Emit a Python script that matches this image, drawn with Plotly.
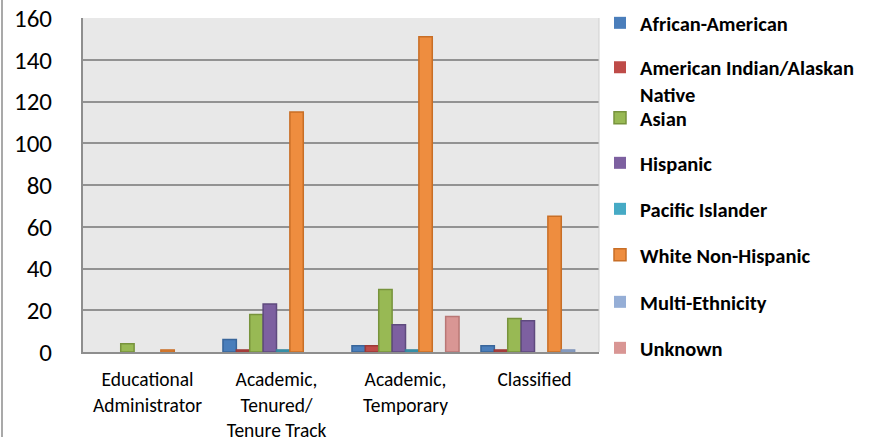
import plotly.graph_objects as go

# Headcount by employee category and ethnicity
categories = [
    "Educational<br>Administrator",
    "Academic,<br>Tenured/<br>Tenure Track",
    "Academic,<br>Temporary",
    "Classified",
]

series_names = [
    "African-American",
    "American Indian/Alaskan<br>Native",
    "Asian",
    "Hispanic",
    "Pacific Islander",
    "White Non-Hispanic",
    "Multi-Ethnicity",
    "Unknown",
]

african_american = [0, 6, 3, 3]
american_indian = [0, 1, 3, 1]
asian = [4, 18, 30, 16]
hispanic = [0, 23, 13, 15]
pacific_islander = [0, 1, 1, 0]
white_non_hispanic = [1, 115, 151, 65]
multi_ethnicity = [0, 0, 0, 1]
unknown = [0, 0, 17, 0]

series_values = [
    african_american, american_indian, asian, hispanic,
    pacific_islander, white_non_hispanic, multi_ethnicity, unknown,
]

fill_colors = ["#4A7EBB", "#BE4B48", "#98B954", "#7D60A0",
               "#46AAC5", "#EE8D3F", "#95AED6", "#D99694"]
edge_colors = ["#38659A", "#9C3936", "#77933C", "#5F4A7E",
               "#31859C", "#C86E26", "#7E93B8", "#B97775"]

FONT = "Carlito, Lato"

W, H = 874, 443
L, R, T, B = 83, 275, 18, 91
plot_w = W - L - R
plot_h = H - T - B

# legend rows (pixel centre of each entry)
legend_rows = [23, 81, 118, 163, 209, 255, 302, 348]
legend_left_px = 600

fig = go.Figure()
layout_legends = {}
for i, (name, vals) in enumerate(zip(series_names, series_values)):
    key = "legend" if i == 0 else f"legend{i + 1}"
    fig.add_trace(go.Bar(
        name=name,
        x=categories,
        y=vals,
        marker=dict(color=fill_colors[i],
                    # no outline on empty bars
                    line=dict(color=edge_colors[i],
                              width=[1.5 if v else 0 for v in vals])),
        legend=key,
    ))
    layout_legends[key] = dict(
        x=(legend_left_px - L) / plot_w,
        xanchor="left",
        y=(H - B - legend_rows[i]) / plot_h,
        yanchor="middle",
        valign="top",
        bgcolor="rgba(0,0,0,0)",
        font=dict(family=FONT, size=20.5, color="#000000", weight="bold"),
    )

fig.update_layout(
    width=W, height=H,
    margin=dict(l=L, r=R, t=T, b=B, pad=0, autoexpand=False),
    paper_bgcolor="#FFFFFF",
    plot_bgcolor="#E8E8E8",
    barmode="group",
    bargap=0.17,
    bargroupgap=0,
    showlegend=True,
    font=dict(family=FONT, color="#000000"),
    xaxis=dict(
        showgrid=False,
        showline=True, linecolor="#8E8E8E", linewidth=2,
        ticks="", tickfont=dict(size=19.5, family=FONT),
        ticklabelstandoff=9,
        fixedrange=True,
    ),
    yaxis=dict(
        range=[0, 160], dtick=20, tick0=0,
        showgrid=True, gridcolor="#929292", gridwidth=2,
        showline=True, linecolor="#8E8E8E", linewidth=2,
        zeroline=False,
        ticks="", tickfont=dict(size=25, family=FONT),
        ticklabelstandoff=24,
        fixedrange=True,
    ),
    shapes=[
        # light right edge of the plot area
        dict(type="line", xref="paper", yref="paper",
             x0=1, x1=1, y0=0, y1=1,
             line=dict(color="#D0D0D0", width=1)),
        # chart frame on the left side
        dict(type="line", xref="paper", yref="paper",
             x0=(2 - L) / plot_w, x1=(2 - L) / plot_w,
             y0=(H - B - 437) / plot_h, y1=(H - B) / plot_h + T / plot_h,
             line=dict(color="#8C8C8C", width=1.5)),
    ],
    **layout_legends,
)

fig.write_html("out.html")
